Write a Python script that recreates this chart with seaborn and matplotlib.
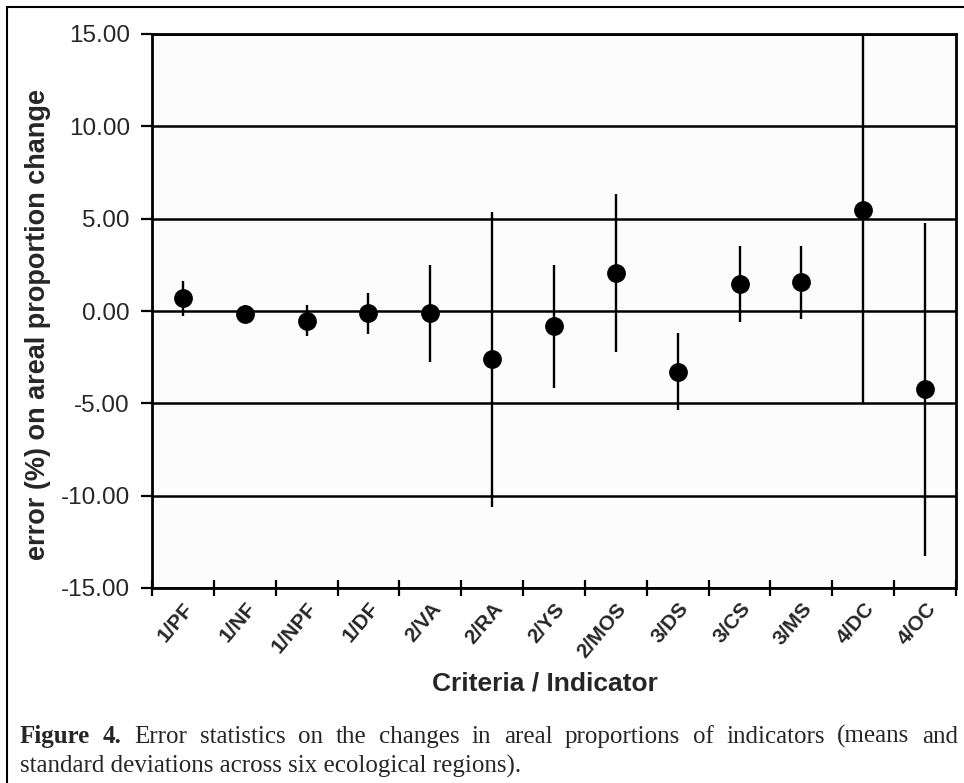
import numpy as np
import matplotlib
matplotlib.use("Agg")
import matplotlib.pyplot as plt
import seaborn as sns
from matplotlib.lines import Line2D
from matplotlib.ticker import FuncFormatter

# means and standard deviations
categories = ["1/PF", "1/NF", "1/NPF", "1/DF", "2/VA", "2/RA", "2/YS",
              "2/MOS", "3/DS", "3/CS", "3/MS", "4/DC", "4/OC"]
means = [0.69, -0.18, -0.52, -0.13, -0.13, -2.62, -0.83,
         2.06, -3.29, 1.48, 1.55, 5.49, -4.25]
sds = [0.95, 0.48, 0.85, 1.10, 2.61, 8.00, 3.32,
       4.30, 2.09, 2.05, 1.99, 10.45, 9.02]
yticks = [-15, -10, -5, 0, 5, 10, 15]

caption_1 = "Error statistics on the changes in areal proportions of indicators (means and"
caption_2 = "standard deviations across six ecological regions)."

sns.set_style("white")
plt.rcParams["font.family"] = ["Liberation Sans", "DejaVu Sans"]

W, H = 964, 783
fig = plt.figure(figsize=(W / 100, H / 100), dpi=100)
ax = fig.add_axes([152 / W, 1 - 588 / H, (956 - 152) / W, (588 - 34) / H])
ax.set_facecolor("#fcfcfc")

sns.pointplot(x=categories, y=means, linestyle="none", errorbar=None,
              color="black", marker="o", markersize=11.5, ax=ax, zorder=4)
ax.errorbar(range(len(categories)), means, yerr=sds, fmt="none",
            ecolor="black", elinewidth=1.7, capsize=0, zorder=3)

ax.set_xlim(-0.5, len(categories) - 0.5)
ax.set_ylim(-15, 15)
ax.set_yticks(yticks)
ax.yaxis.set_major_formatter(FuncFormatter(lambda v, p: f"{v:.2f}"))
ax.yaxis.grid(True, color="black", linewidth=1.8)
ax.xaxis.grid(False)
ax.set_axisbelow(True)

ax.set_xticks(range(len(categories)))
ax.set_xticklabels(categories, rotation=50, ha="right", rotation_mode="anchor",
                   fontsize=15, fontweight="bold")
ax.set_xticks(np.arange(-0.5, len(categories), 1), minor=True)
ax.tick_params(axis="x", which="major", bottom=True, length=0, pad=8)
ax.tick_params(axis="x", which="minor", bottom=True, direction="inout",
               length=12, width=1.6, color="black")
ax.tick_params(axis="y", left=True, direction="out", length=8, width=1.6,
               color="black", labelsize=17.5, pad=8)

for sp in ax.spines.values():
    sp.set_color("black")
    sp.set_linewidth(2)

ax.set_xlabel("Criteria / Indicator", fontsize=19, fontweight="bold")
ax.xaxis.set_label_coords(0.489, -0.15)
ax.set_ylabel("error (%) on areal proportion change", fontsize=19.5, fontweight="bold")
ax.yaxis.set_label_coords(-0.126, 0.475)

# page frame (top and left edge)
fig.add_artist(Line2D([7 / W, 1], [1 - 7 / H, 1 - 7 / H], color="black", lw=1.5))
fig.add_artist(Line2D([7 / W, 7 / W], [0, 1 - 7 / H], color="black", lw=1.5))

# caption, first line justified
renderer = fig.canvas.get_renderer()
words = [("Figure", "bold"), ("4.", "bold")] + [(w, "normal") for w in caption_1.split()]
texts = [fig.text(0, 0, w, fontsize=18, fontweight=wt, family="Liberation Serif",
                  va="baseline") for w, wt in words]
widths = [t.get_window_extent(renderer).width for t in texts]
gap = (958 - 20 - sum(widths)) / (len(texts) - 1)
x = 20
for t, w in zip(texts, widths):
    t.set_position((x / W, 1 - 743 / H))
    x += w + gap
fig.text(20 / W, 1 - 773 / H, caption_2, fontsize=18, family="Liberation Serif",
         va="baseline")

fig.savefig("out.png", dpi=100)
